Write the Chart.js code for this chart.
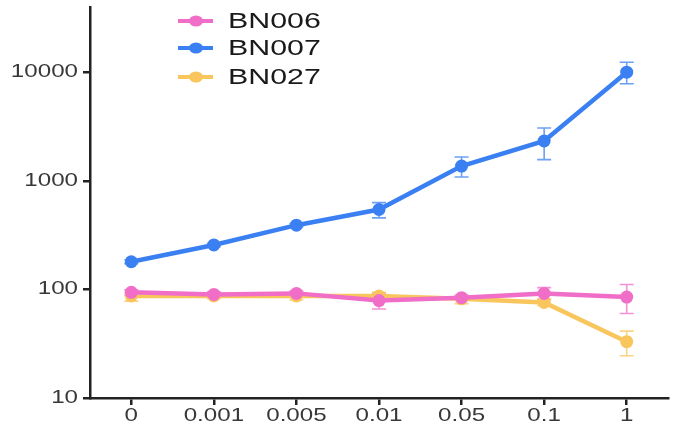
<!DOCTYPE html>
<html>
<head>
<meta charset="utf-8">
<script src="https://cdn.jsdelivr.net/npm/chart.js@4.4.1/dist/chart.umd.min.js"></script>
<style>
  html, body { margin: 0; padding: 0; background: #fff; }
  #wrap { width: 675px; height: 427px; }
</style>
</head>
<body>
<div id="wrap"><canvas id="chart1" width="675" height="427"></canvas></div>
<script>
// concentrations on the x axis
var doses = ['0', '0.001', '0.005', '0.01', '0.05', '0.1', '1'];
var yTicks = [10, 100, 1000, 10000];

var seriesNames = ['BN006', 'BN007', 'BN027'];

var bn006 = [94, 90, 92, 79, 84, 92, 85];
var bn006Lo = [89, 86, 87, 66, 80, 81, 60];
var bn006Hi = [99, 95, 97, 92, 89, 104, 111];

var bn007 = [180, 257, 391, 545, 1370, 2330, 10040];
var bn007Lo = [173, 248, 379, 456, 1086, 1570, 7850];
var bn007Hi = [188, 266, 404, 631, 1660, 3070, 12400];

var bn027 = [87, 87, 87, 87, 82, 76, 33];
var bn027Lo = [78, 82, 80, 81, 74, 71, 24.5];
var bn027Hi = [94, 92, 93, 94, 88, 81, 41.3];

var colors = ['#f06ec8', '#3a80f2', '#f8c65c'];
var axisColor = '#222';
var textColor = '#383838';
var stretch = 1.38; // the picture is wider than it is tall, text gets stretched too

function mkSet(i, vals, lo, hi) {
  return {
    label: seriesNames[i],
    data: vals,
    errLo: lo,
    errHi: hi,
    borderColor: colors[i],
    backgroundColor: colors[i],
    borderWidth: 4.5,
    pointRadius: 6.5,
    pointHoverRadius: 6.5,
    pointBorderWidth: 0,
    tension: 0
  };
}

// error bars, drawn under the lines
var errorBars = {
  id: 'errorBars',
  beforeDatasetsDraw: function (chart) {
    var ctx = chart.ctx;
    var ys = chart.scales.y;
    chart.data.datasets.forEach(function (ds, di) {
      var meta = chart.getDatasetMeta(di);
      ctx.save();
      ctx.strokeStyle = ds.borderColor;
      ctx.globalAlpha = 0.75;
      ctx.lineWidth = 1.6;
      meta.data.forEach(function (pt, i) {
        var yl = ys.getPixelForValue(ds.errLo[i]);
        var yh = ys.getPixelForValue(ds.errHi[i]);
        var cap = 7;
        ctx.beginPath();
        ctx.moveTo(pt.x, yl); ctx.lineTo(pt.x, yh);
        ctx.moveTo(pt.x - cap, yl); ctx.lineTo(pt.x + cap, yl);
        ctx.moveTo(pt.x - cap, yh); ctx.lineTo(pt.x + cap, yh);
        ctx.stroke();
      });
      ctx.restore();
    });
  }
};

function wideText(ctx, txt, x, y, align) {
  ctx.save();
  ctx.translate(x, y);
  ctx.scale(stretch, 1);
  ctx.textAlign = align;
  ctx.fillText(txt, 0, 0);
  ctx.restore();
}

// tick labels and legend drawn by hand so they can be stretched
var labelsAndLegend = {
  id: 'labelsAndLegend',
  afterDraw: function (chart) {
    var ctx = chart.ctx;
    var xs = chart.scales.x;
    var ys = chart.scales.y;

    ctx.save();
    ctx.fillStyle = textColor;
    ctx.textBaseline = 'middle';
    ctx.font = '17.5px "Liberation Sans", Arial, sans-serif';
    for (var i = 0; i < doses.length; i++) {
      wideText(ctx, doses[i], xs.getPixelForTick(i), 416, 'center');
    }
    yTicks.forEach(function (v) {
      wideText(ctx, String(v), 78, ys.getPixelForValue(v), 'right');
    });

    var rows = [21, 48, 77];
    ctx.font = '22px "Liberation Sans", Arial, sans-serif';
    chart.data.datasets.forEach(function (ds, di) {
      var y = rows[di];
      ctx.strokeStyle = ds.borderColor;
      ctx.fillStyle = ds.borderColor;
      ctx.lineWidth = 4;
      ctx.beginPath();
      ctx.moveTo(178, y); ctx.lineTo(213, y);
      ctx.stroke();
      ctx.beginPath();
      ctx.ellipse(196, y, 7, 5.5, 0, 0, Math.PI * 2);
      ctx.fill();
      ctx.fillStyle = '#1a1a1a';
      wideText(ctx, ds.label, 228, y + 1, 'left');
    });
    ctx.restore();
  }
};

var gridOpts = {
  display: true,
  drawOnChartArea: false,
  drawTicks: true,
  tickLength: 7,
  color: axisColor,
  lineWidth: 2.5
};

var chart1 = new Chart(document.getElementById('chart1'), {
  type: 'line',
  data: {
    labels: doses,
    datasets: [
      mkSet(0, bn006, bn006Lo, bn006Hi),
      mkSet(1, bn007, bn007Lo, bn007Hi),
      mkSet(2, bn027, bn027Lo, bn027Hi)
    ]
  },
  plugins: [errorBars, labelsAndLegend],
  options: {
    responsive: false,
    animation: false,
    layout: { padding: { top: 7, right: 7, left: 0, bottom: 0 } },
    plugins: {
      legend: { display: false },
      tooltip: { enabled: false }
    },
    scales: {
      x: {
        type: 'category',
        offset: true,
        grid: gridOpts,
        border: { display: true, color: axisColor, width: 2.5 },
        ticks: { display: false },
        afterFit: function (s) { s.height = 29; }
      },
      y: {
        type: 'logarithmic',
        min: 10,
        max: 40000,
        grid: gridOpts,
        border: { display: true, color: axisColor, width: 2.5 },
        ticks: { display: false },
        afterBuildTicks: function (s) {
          s.ticks = yTicks.map(function (v) { return { value: v }; });
        },
        afterFit: function (s) { s.width = 90; }
      }
    }
  }
});
</script>
</body>
</html>
